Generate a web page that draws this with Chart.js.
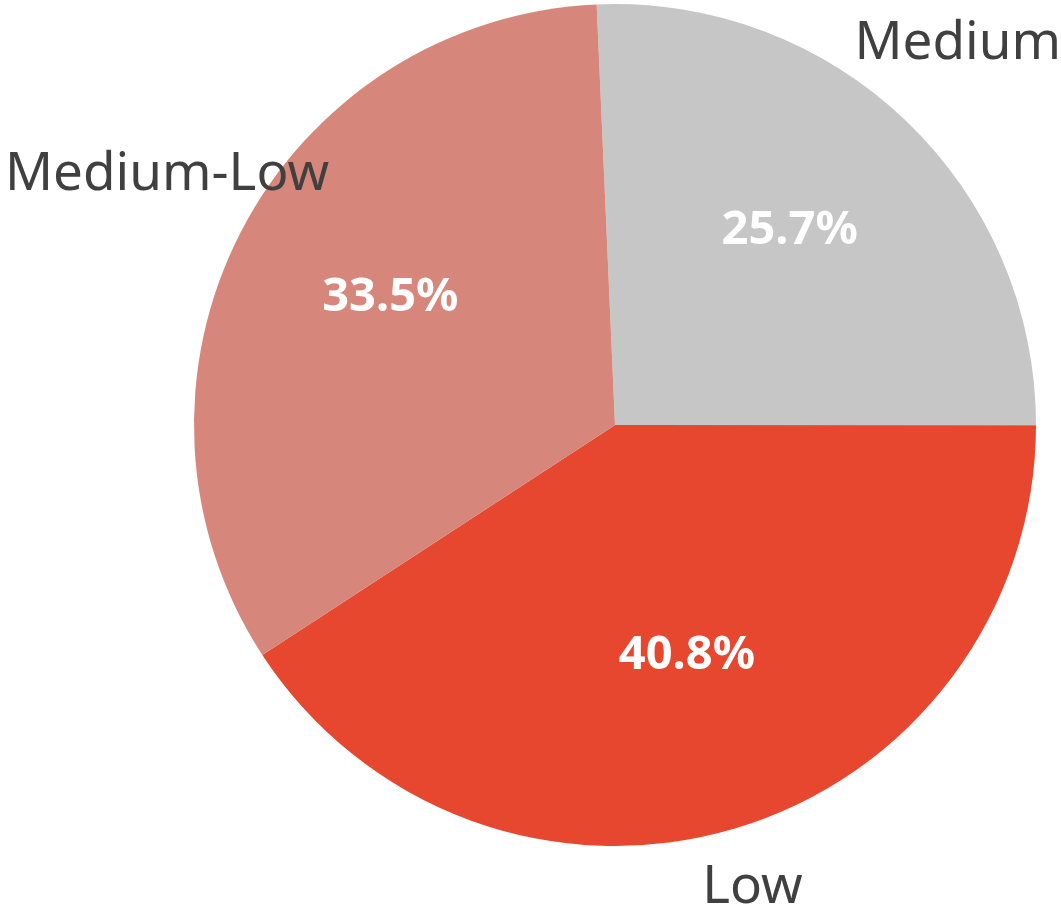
<!DOCTYPE html>
<html>
<head>
<meta charset="utf-8">
<script src="https://cdn.jsdelivr.net/npm/chart.js@4/dist/chart.umd.min.js"></script>
<style>
  html, body { margin: 0; padding: 0; background: #ffffff; }
  #wrap { width: 1061px; height: 913px; position: relative; }
</style>
</head>
<body>
<div id="wrap"><canvas id="c" width="1061" height="913"></canvas></div>
<script>
const categories = ['Medium', 'Low', 'Medium-Low'];
const values = [25.7, 40.8, 33.5];
const colors = ['#c6c6c6', '#e8472f', '#d6867a'];

const labelPlugin = {
  id: 'sliceLabels',
  afterDatasetsDraw(chart) {
    const ctx = chart.ctx;
    const meta = chart.getDatasetMeta(0);
    const total = values.reduce((a, b) => a + b, 0);
    const W = chart.width, H = chart.height;
    ctx.save();
    ctx.textAlign = 'center';
    ctx.textBaseline = 'middle';
    meta.data.forEach((arc, i) => {
      const p = arc.getProps(['x', 'y', 'startAngle', 'endAngle', 'outerRadius'], true);
      const mid = (p.startAngle + p.endAngle) / 2;
      const cx = Math.cos(mid), cy = Math.sin(mid);
      // percentage
      const pr = p.outerRadius * 0.6;
      ctx.font = 'bold 47px "Noto Sans"';
      ctx.fillStyle = '#ffffff';
      const pct = (values[i] / total * 100).toFixed(1) + '%';
      ctx.fillText(pct, p.x + cx * pr, p.y + cy * pr - 12);
      // category name
      const nr = p.outerRadius * 1.3;
      ctx.font = '53px "Noto Sans"';
      ctx.fillStyle = '#404040';
      const tw = ctx.measureText(categories[i]).width;
      let x = p.x + cx * nr;
      let y = p.y + cy * nr;
      const yMax = H - 25, yMin = 44;
      if (y > yMax) { y = yMax; x = p.x + cx * ((y - p.y) / cy); }
      if (y < yMin) { y = yMin; }
      x = Math.min(Math.max(x, tw / 2 + 5), W - tw / 2);
      ctx.fillText(categories[i], x, y);
    });
    ctx.restore();
  }
};

new Chart(document.getElementById('c'), {
  type: 'pie',
  data: {
    labels: categories,
    datasets: [{
      data: values,
      backgroundColor: colors,
      borderWidth: 0,
      hoverOffset: 0
    }]
  },
  options: {
    responsive: false,
    animation: false,
    rotation: -2.5,
    layout: { padding: { left: 194, right: 25, top: 4, bottom: 67 } },
    plugins: {
      legend: { display: false },
      tooltip: { enabled: false }
    }
  },
  plugins: [labelPlugin]
});
</script>
</body>
</html>
